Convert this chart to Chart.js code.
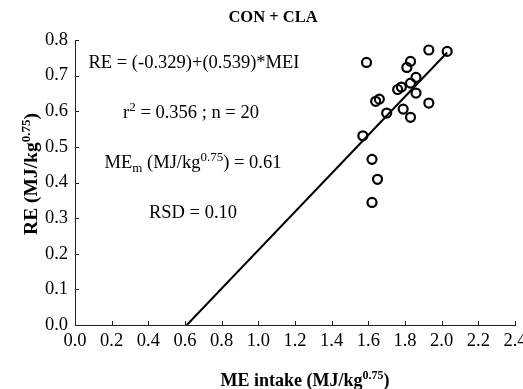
<!DOCTYPE html>
<html>
<head>
<meta charset="utf-8">
<script src="https://cdn.jsdelivr.net/npm/chart.js@4/dist/chart.umd.min.js"></script>
<style>
  html, body { margin: 0; padding: 0; background: #fff; }
  #wrap { width: 523px; height: 389px; }
</style>
</head>
<body>
<div id="wrap"><canvas id="myChart"></canvas></div>
<script>
// values
const meIntake = [1.59, 1.93, 2.03, 1.83, 1.81, 1.86, 1.83, 1.78, 1.76, 1.86,
                  1.66, 1.64, 1.93, 1.79, 1.70, 1.83, 1.62, 1.65, 1.62, 1.57];
const reValues = [0.737, 0.772, 0.768, 0.740, 0.723, 0.695, 0.679, 0.668, 0.661, 0.651,
                  0.634, 0.628, 0.623, 0.606, 0.595, 0.583, 0.465, 0.409, 0.344, 0.531];
// regression line ends
const fitX = [0.61, 2.03];
const fitY = [0.0, 0.765];

const xTicks = [0.0, 0.2, 0.4, 0.6, 0.8, 1.0, 1.2, 1.4, 1.6, 1.8, 2.0, 2.2, 2.4];
const yTicks = [0.0, 0.1, 0.2, 0.3, 0.4, 0.5, 0.6, 0.7, 0.8];

const FONT = "'Liberation Serif', 'Times New Roman', serif";

// text with a sub/superscript part: [[text, 'n'|'sup'|'sub'], ...]
function runs(ctx, parts, x, y, size, bold, align) {
  const w = p => {
    const s = p[1] === 'n' ? size : Math.round(size * 0.68);
    ctx.font = (bold ? 'bold ' : '') + s + 'px ' + FONT;
    return ctx.measureText(p[0]).width;
  };
  let total = 0;
  parts.forEach(p => total += w(p));
  let cx = align === 'center' ? x - total / 2 : x;
  parts.forEach(p => {
    const pw = w(p);
    let dy = 0;
    if (p[1] === 'sup') dy = -size * 0.38;
    if (p[1] === 'sub') dy = size * 0.2;
    ctx.fillText(p[0], cx, y + dy);
    cx += pw;
  });
}

const extras = {
  id: 'extras',
  afterDraw(chart) {
    const ctx = chart.ctx;
    const xs = chart.scales.x, ys = chart.scales.y;
    ctx.save();
    // inward tick marks
    ctx.strokeStyle = '#222';
    ctx.lineWidth = 1;
    ctx.beginPath();
    xTicks.forEach(v => {
      const px = Math.round(xs.getPixelForValue(v)) + 0.5;
      ctx.moveTo(px, ys.bottom);
      ctx.lineTo(px, ys.bottom - 4);
    });
    yTicks.forEach(v => {
      const py = Math.round(ys.getPixelForValue(v)) + 0.5;
      ctx.moveTo(xs.left, py);
      ctx.lineTo(xs.left + 4, py);
    });
    ctx.stroke();

    ctx.fillStyle = '#000';
    ctx.textBaseline = 'alphabetic';
    ctx.textAlign = 'left';

    // title
    runs(ctx, [['CON + CLA', 'n']], 273, 22, 16.5, true, 'center');

    // annotations
    runs(ctx, [['RE = (-0.329)+(0.539)*MEI', 'n']], 194, 68, 18.5, false, 'center');
    runs(ctx, [['r', 'n'], ['2', 'sup'], [' = 0.356 ; n = 20', 'n']], 191, 118, 18.5, false, 'center');
    runs(ctx, [['ME', 'n'], ['m', 'sub'], [' (MJ/kg', 'n'], ['0.75', 'sup'], [') = 0.61', 'n']], 193, 168, 18.5, false, 'center');
    runs(ctx, [['RSD = 0.10', 'n']], 193, 218, 18.5, false, 'center');

    // axis titles
    runs(ctx, [['ME intake (MJ/kg', 'n'], ['0.75', 'sup'], [')', 'n']], 305, 386, 18, true, 'center');
    ctx.translate(37, 174);
    ctx.rotate(-Math.PI / 2);
    runs(ctx, [['RE (MJ/kg', 'n'], ['0.75', 'sup'], [')', 'n']], 0, 0, 19.5, true, 'center');
    ctx.restore();
  }
};

const ctx = document.getElementById('myChart');

new Chart(ctx, {
  type: 'scatter',
  data: {
    datasets: [{
      label: 'CON + CLA',
      data: meIntake.map((v, i) => ({ x: v, y: reValues[i] })),
      pointStyle: 'circle',
      pointRadius: 4.5,
      borderWidth: 2.2,
      borderColor: '#000',
      backgroundColor: 'rgba(255,255,255,0)'
    }, {
      label: 'fit',
      data: fitX.map((v, i) => ({ x: v, y: fitY[i] })),
      showLine: true,
      pointRadius: 0,
      borderColor: '#000',
      borderWidth: 2
    }]
  },
  options: {
    responsive: true,
    maintainAspectRatio: false,
    animation: false,
    layout: { padding: { top: 40, right: 8, left: 0, bottom: 0 } },
    plugins: { legend: { display: false }, tooltip: { enabled: false } },
    scales: {
      x: {
        type: 'linear',
        min: 0, max: 2.4,
        afterBuildTicks: s => { s.ticks = xTicks.map(v => ({ value: v })); },
        afterFit: s => { s.height = 64; s.paddingLeft = 0; s.paddingRight = 0; },
        grid: { display: true, drawOnChartArea: false, drawTicks: false },
        border: { display: true, color: '#222', width: 1 },
        ticks: {
          padding: 5,
          color: '#000',
          maxRotation: 0,
          autoSkip: false,
          font: { family: FONT, size: 18.5 },
          callback: v => Number(v).toFixed(1)
        }
      },
      y: {
        type: 'linear',
        min: 0, max: 0.8,
        afterBuildTicks: s => { s.ticks = yTicks.map(v => ({ value: v })); },
        afterFit: s => { s.width = 75; s.paddingTop = 0; s.paddingBottom = 0; },
        grid: { display: true, drawOnChartArea: false, drawTicks: false },
        border: { display: true, color: '#222', width: 1 },
        ticks: {
          padding: 7,
          color: '#000',
          autoSkip: false,
          font: { family: FONT, size: 18.5 },
          callback: v => Number(v).toFixed(1)
        }
      }
    }
  },
  plugins: [extras]
});
</script>
</body>
</html>
